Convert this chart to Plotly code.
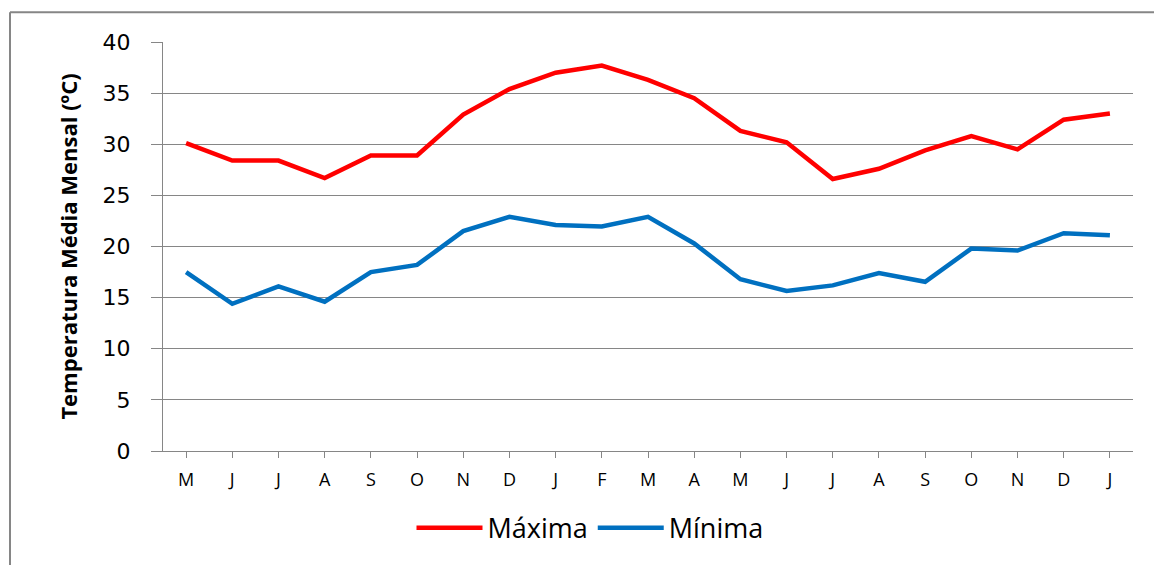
import plotly.graph_objects as go

months = ["M", "J", "J", "A", "S", "O", "N", "D", "J", "F", "M",
          "A", "M", "J", "J", "A", "S", "O", "N", "D", "J"]
maxima = [30.1, 28.4, 28.4, 26.7, 28.9, 28.9, 32.9, 35.4, 37.0, 37.7, 36.3,
          34.5, 31.3, 30.2, 26.6, 27.6, 29.4, 30.8, 29.5, 32.4, 33.0]
minima = [17.5, 14.4, 16.1, 14.6, 17.5, 18.2, 21.5, 22.9, 22.1, 21.95, 22.9,
          20.3, 16.8, 15.65, 16.2, 17.4, 16.55, 19.8, 19.6, 21.3, 21.1]
yticks = [0, 5, 10, 15, 20, 25, 30, 35, 40]

x = list(range(len(months)))

fig = go.Figure()
fig.add_trace(go.Scatter(x=x, y=maxima, mode="lines", name="Máxima",
                         line=dict(color="#FF0000", width=4.5)))
fig.add_trace(go.Scatter(x=x, y=minima, mode="lines", name="Mínima",
                         line=dict(color="#0070C0", width=4.5)))

W, H = 1154, 565
L, T = 163, 42
R = W - 1133
B = H - 455
pw, ph = W - L - R, H - T - B

def px_x(p):
    return (p - L) / pw

def px_y(p):
    return (H - B - p) / ph

# chart-area frame: only top and left edges are visible in the reference
fig.add_shape(type="line", xref="paper", yref="paper",
              x0=px_x(10), x1=px_x(1160), y0=px_y(12), y1=px_y(12),
              line=dict(color="#868686", width=2), layer="below")
fig.add_shape(type="line", xref="paper", yref="paper",
              x0=px_x(10), x1=px_x(10), y0=px_y(12), y1=px_y(570),
              line=dict(color="#868686", width=2), layer="below")

fig.update_layout(
    width=W, height=H,
    margin=dict(l=L, r=R, t=T, b=B),
    paper_bgcolor="white", plot_bgcolor="white",
    font=dict(family="Open Sans, DejaVu Sans, sans-serif", color="#000000"),
    showlegend=True,
    legend=dict(orientation="h", x=px_x(590), xanchor="center", y=px_y(533), yanchor="middle",
                font=dict(size=27, color="#000000"), itemwidth=66,
                tracegroupgap=0),
    xaxis=dict(
        tickmode="array", tickvals=x, ticktext=months,
        range=[-0.5, len(months) - 0.5],
        showgrid=False, zeroline=False,
        showline=True, linecolor="#868686", linewidth=1,
        ticks="outside", ticklen=6, tickcolor="#868686", tickson="boundaries",
        tickfont=dict(size=18, color="#000000"),
        ticklabelstandoff=6,
    ),
    yaxis=dict(
        range=[0, 40], tickvals=yticks,
        showgrid=True, gridcolor="#868686", gridwidth=1,
        zeroline=False,
        showline=True, linecolor="#868686", linewidth=1,
        ticks="outside", ticklen=11, tickcolor="#868686",
        tickfont=dict(size=22, family="DejaVu Sans, sans-serif", color="#000000"),
        ticklabelstandoff=16,
        title=dict(text="<b>Temperatura Média Mensal (ºC)</b>",
                   font=dict(size=22, color="#000000"), standoff=18),
    ),
)

fig.write_html(
    "out.html",
    config={"displayModeBar": False},
    post_script="document.body.style.margin='0';document.body.style.overflow='hidden';",
)
